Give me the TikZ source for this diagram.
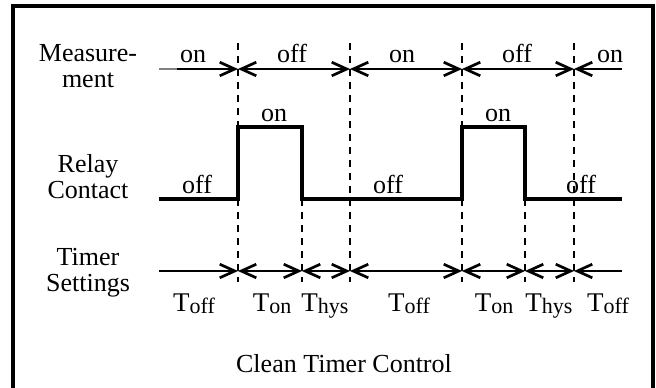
\documentclass[tikz,border=0pt]{standalone}
\usepackage{fontspec}
\setmainfont{Liberation Serif}
\usepackage{tikz}
\usetikzlibrary{arrows.meta,positioning}

\newcommand{\tmrsub}[1]{T\raisebox{-1.3pt}{\fontsize{11}{11}\selectfont #1}}

\begin{document}
\begin{tikzpicture}[
    x=0.5pt, y=-0.5pt,
    tmrrow/.style={align=center, inner sep=0pt, font=\fontsize{13}{13}\selectfont},
    tmrstate/.style={anchor=base, inner sep=0pt, font=\fontsize{13}{13}\selectfont},
    tmrtime/.style={anchor=base, inner sep=0pt, font=\fontsize{13.5}{13.5}\selectfont},
    tmrarrow/.style={{Straight Barb[length=7.5pt,width=6.8pt]}-{Straight Barb[length=7.5pt,width=6.8pt]}, line width=1.35pt},
    tmrlead/.style={-{Straight Barb[length=7.5pt,width=6.8pt]}, line width=1.35pt},
    tmrtail/.style={{Straight Barb[length=7.5pt,width=6.8pt]}-, line width=1.35pt},
    tmrsignal/.style={line width=1.65pt},
    tmrmark/.style={dash pattern=on 3.7pt off 2.8pt, line width=1.05pt},
  ]
    \useasboundingbox (0,0) rectangle (656,387);
    % frame, cut off at the bottom
    \draw[line width=1.6pt] (13,390) -- (13,6) -- (653,6) -- (653,390);

    % switching instants
    \foreach \n/\x in {0/159,1/238,2/302,3/350,4/462,5/525,6/574,7/622}{
      \coordinate (top\n) at (\x,43);
      \coordinate (m\n) at (\x,69);
      \coordinate (hi\n) at (\x,127);
      \coordinate (lo\n) at (\x,199);
      \coordinate (t\n) at (\x,271);
      \coordinate (bot\n) at (\x,282);
    }
    \coordinate (mstub) at (177,69);

    \foreach \n in {1,3,4,6} \draw[tmrmark] (top\n) -- (bot\n);
    \foreach \n in {2,5} \draw[tmrmark] (lo\n) -- (bot\n);

    % row titles
    \node[tmrrow] (measurement) at (88,66) {Measure-\\ment};
    \node[tmrrow] (relay) at (88,177) {Relay\\Contact};
    \node[tmrrow] (timer) at (88,273) {Timer\\Settings};

    % measurement
    \draw[gray, line width=1.35pt] (m0) -- (mstub);
    \draw[tmrlead] (mstub) -- (m1);
    \draw[tmrarrow] (m1) -- (m3);
    \draw[tmrarrow] (m3) -- (m4);
    \draw[tmrarrow] (m4) -- (m6);
    \draw[tmrtail] (m6) -- (m7);
    \node[tmrstate] (mon1) at (193,62) {on};
    \node[tmrstate] (moff1) at (292,62) {off};
    \node[tmrstate] (mon2) at (402,62) {on};
    \node[tmrstate] (moff2) at (517,62) {off};
    \node[tmrstate] (mon3) at (610,62) {on};

    % relay contact
    \draw[tmrsignal] (lo0) -- (lo1) -- (hi1) -- (hi2) -- (lo2) -- (lo4) -- (hi4) -- (hi5) -- (lo5) -- (lo7);
    \node[tmrstate] (roff1) at (197,193) {off};
    \node[tmrstate] (ron1) at (274,121) {on};
    \node[tmrstate] (roff2) at (388,193) {off};
    \node[tmrstate] (ron2) at (498,121) {on};
    \node[tmrstate] (roff3) at (581,193) {off};

    % timer settings
    \draw[tmrlead] (t0) -- (t1);
    \foreach \a/\b in {1/2,2/3,3/4,4/5,5/6} \draw[tmrarrow] (t\a) -- (t\b);
    \draw[tmrtail] (t6) -- (t7);
    \node[tmrtime] (toff1) at (194,311) {\tmrsub{off}};
    \node[tmrtime] (ton1) at (272,311) {\tmrsub{on}};
    \node[tmrtime] (thys1) at (325,311) {\tmrsub{hys}};
    \node[tmrtime] (toff2) at (409,311) {\tmrsub{off}};
    \node[tmrtime] (ton2) at (494,311) {\tmrsub{on}};
    \node[tmrtime] (thys2) at (549,311) {\tmrsub{hys}};
    \node[tmrtime] (toff3) at (608,311) {\tmrsub{off}};

    \node[tmrstate] (title) at (344,372) {Clean Timer Control};
\end{tikzpicture}
\end{document}
